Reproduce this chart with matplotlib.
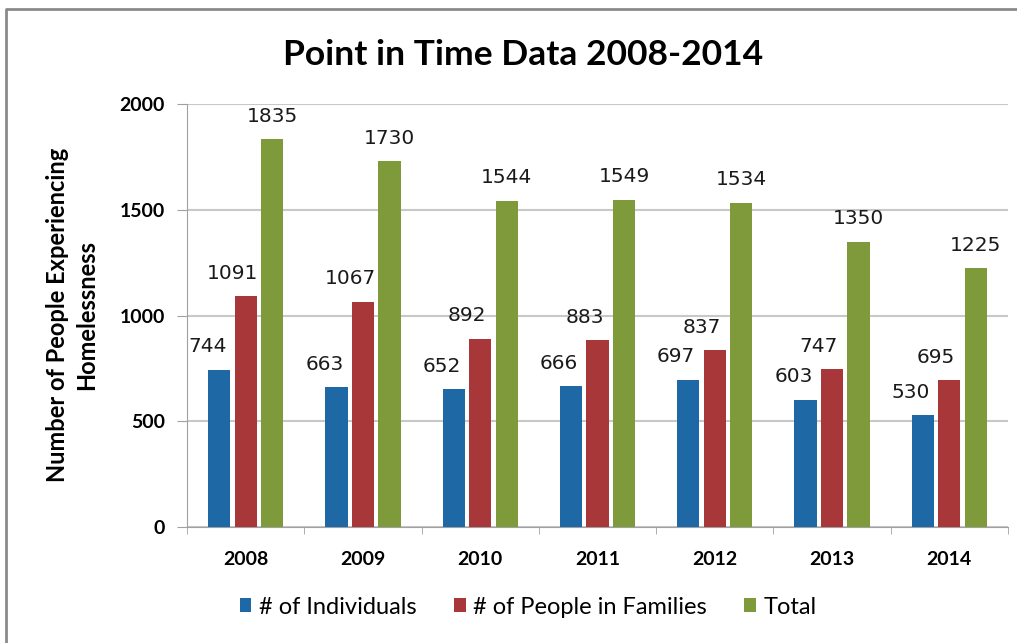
import numpy as np
import matplotlib
matplotlib.use("Agg")
from matplotlib import pyplot as plt
from matplotlib.lines import Line2D

# data
years = ["2008", "2009", "2010", "2011", "2012", "2013", "2014"]
individuals = [744, 663, 652, 666, 697, 603, 530]
families = [1091, 1067, 892, 883, 837, 747, 695]
total = [1835, 1730, 1544, 1549, 1534, 1350, 1225]
series_names = ["# of Individuals", "# of People in Families", "Total"]
y_ticks = [0, 500, 1000, 1500, 2000]

colors = ["#1f68a6", "#a8373a", "#7e9a3a"]
label_dx = [-12, -13, 0]   # data labels sit a bit left of the bars

fig = plt.figure(figsize=(10.17, 6.43), dpi=100)
ax = fig.add_axes([0.184, 0.180, 0.807, 0.658])

x = np.arange(len(years))
step = 0.226
width = 0.19
for k, vals in enumerate([individuals, families, total]):
    pos = x + (k - 1) * step
    bars = ax.bar(pos, vals, width, color=colors[k], label=series_names[k], zorder=3)
    for b, v in zip(bars, vals):
        ax.annotate(str(v), (b.get_x() + b.get_width() / 2, v),
                    xytext=(label_dx[k], 23), textcoords="offset pixels",
                    ha="center", va="center", fontsize=14.5,
                    family="DejaVu Sans", color="#1a1a1a")

ax.set_xlim(-0.5, len(years) - 0.5)
ax.set_ylim(0, 2000)
ax.set_yticks(y_ticks)
ax.set_yticklabels([str(t) for t in y_ticks], family="Lato", fontweight="bold", fontsize=14)
ax.set_xticks(x)
ax.set_xticklabels(years, family="Lato", fontweight="bold", fontsize=14)
ax.set_xticks(np.arange(len(years) + 1) - 0.5, minor=True)
ax.tick_params(axis="x", which="major", length=0, pad=17)
ax.tick_params(axis="x", which="minor", length=5, color="#a0a0a0", direction="out")
ax.tick_params(axis="y", length=7, color="#a0a0a0", pad=9)
ax.yaxis.grid(True, color="#c8c8c8", linewidth=1.5, zorder=0)
for s in ["top", "right"]:
    ax.spines[s].set_visible(False)
for s in ["left", "bottom"]:
    ax.spines[s].set_color("#a0a0a0")

fig.text(523 / 1017, 1 - 55 / 643, "Point in Time Data 2008-2014",
         ha="center", va="center", family="Lato", fontweight="bold", fontsize=25.5)
fig.text(72 / 1017, 1 - 315 / 643, "Number of People Experiencing\nHomelessness",
         ha="center", va="center", rotation=90, multialignment="center",
         family="Lato", fontweight="bold", fontsize=17, linespacing=1.3)

fig.legend(loc="center", bbox_to_anchor=(528 / 1017, 1 - 607 / 643), ncol=3,
           frameon=False, prop={"family": "Lato", "size": 17},
           handlelength=0.5, handleheight=0.5, handletextpad=0.3, columnspacing=1.6)

# scanned frame on left and top
fig.add_artist(Line2D([6 / 1017, 6 / 1017, 1.0], [0.0, 1 - 9 / 643, 1 - 9 / 643],
                      transform=fig.transFigure, color="#8a8a8a", linewidth=2))

fig.savefig("out.png", dpi=100)
